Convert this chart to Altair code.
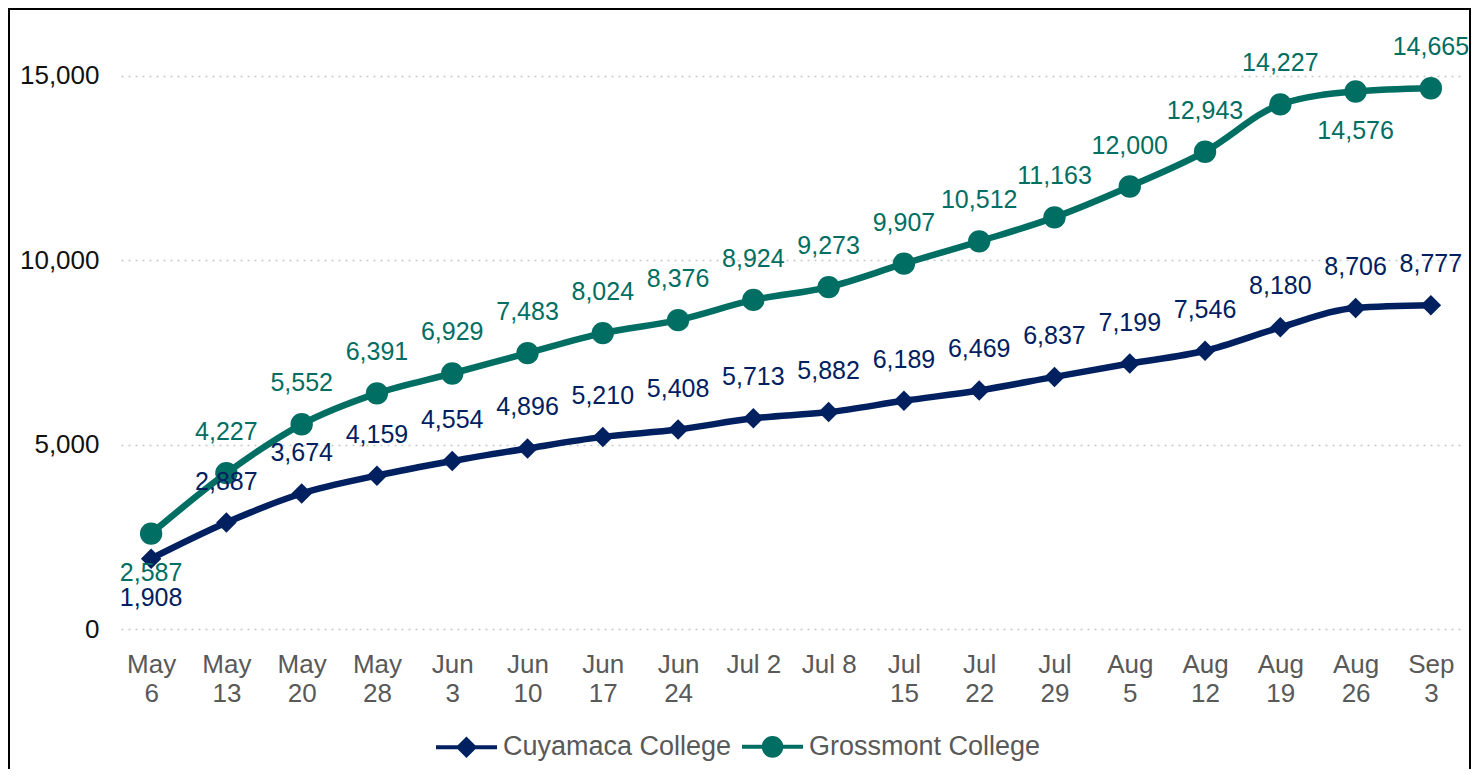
import altair as alt
import pandas as pd

dates = ["May 6", "May 13", "May 20", "May 28", "Jun 3", "Jun 10", "Jun 17", "Jun 24",
         "Jul 2", "Jul 8", "Jul 15", "Jul 22", "Jul 29", "Aug 5", "Aug 12", "Aug 19",
         "Aug 26", "Sep 3"]
cuyamaca = [1908, 2887, 3674, 4159, 4554, 4896, 5210, 5408, 5713, 5882, 6189, 6469,
            6837, 7199, 7546, 8180, 8706, 8777]
grossmont = [2587, 4227, 5552, 6391, 6929, 7483, 8024, 8376, 8924, 9273, 9907, 10512,
             11163, 12000, 12943, 14227, 14576, 14665]
series_names = ["Cuyamaca College", "Grossmont College"]
colors = ["#002060", "#006E62"]
# indices of labels placed below their point
below_idx = {"Cuyamaca College": [0], "Grossmont College": [0, 16]}
single_line_labels = ["Jul 2", "Jul 8"]
y_ticks = [0, 5000, 10000, 15000]

rows = []
for name, vals in zip(series_names, [cuyamaca, grossmont]):
    for i, (d, v) in enumerate(zip(dates, vals)):
        rows.append({"date": d, "series": name, "value": v, "below": i in below_idx[name]})
df = pd.DataFrame(rows)

FONT = "Liberation Sans"
W, H = 1340, 590

x = alt.X("date:N", sort=dates,
          scale=alt.Scale(type="point", padding=0.4),
          axis=alt.Axis(title=None, labelAngle=0, labelFont=FONT, labelFontSize=26,
                        labelColor="#595959", ticks=False, tickSize=0, domain=False,
                        grid=False, labelPadding=22, labelBaseline="top",
                        labelLineHeight=29, labelOverlap=False,
                        labelExpr="indexof(" + str(single_line_labels) + ", datum.label) >= 0 ? datum.label : split(datum.label, ' ')"))
y = alt.Y("value:Q", scale=alt.Scale(domain=[0, 16000], nice=False),
          axis=alt.Axis(values=y_ticks, format=",.0f", title=None, labelFont=FONT,
                        labelFontSize=26, labelColor="#111111", ticks=False, tickSize=0,
                        domain=False, grid=True, gridDash=[2, 5], gridColor="#C8C8C8",
                        gridWidth=1.5, labelPadding=22))
color_scale = alt.Scale(domain=series_names, range=colors)
color = alt.Color("series:N", scale=color_scale, legend=None)

base = alt.Chart(df).encode(x=x, y=y, color=color)

line = base.mark_line(interpolate="monotone", strokeWidth=6.5)
cuy_pts = base.transform_filter(alt.datum.series == "Cuyamaca College").mark_point(
    shape="diamond", filled=True, size=420, opacity=1)
gro_pts = base.transform_filter(alt.datum.series == "Grossmont College").mark_point(
    shape="circle", filled=True, size=500, opacity=1)
lab_above = base.transform_filter("!datum.below").mark_text(
    dy=-41, font=FONT, fontSize=25, baseline="middle").encode(
    text=alt.Text("value:Q", format=","))
lab_below = base.transform_filter("datum.below").mark_text(
    dy=39, font=FONT, fontSize=25, baseline="middle").encode(
    text=alt.Text("value:Q", format=","))

diamond_path = "M-1,0L1,0M0,-0.26L0.26,0L0,0.26L-0.26,0Z"
circle_path = "M-1,0L1,0M-0.29,0A0.29,0.29 0 1,1 0.29,0A0.29,0.29 0 1,1 -0.29,0Z"

legend_layer = alt.Chart(df).transform_filter("datum.value < 0").mark_point(
    filled=True, strokeWidth=4, opacity=1).encode(
    fill=alt.Fill("series:N", scale=alt.Scale(domain=series_names, range=colors),
                  legend=alt.Legend(orient="none", legendX=313, legendY=675,
                                    direction="horizontal", title=None,
                                    labelFont=FONT, labelFontSize=27,
                                    labelColor="#595959", symbolSize=3721,
                                    symbolStrokeWidth=4, labelOffset=4,
                                    columnPadding=2, padding=0, labelLimit=0,
                                    symbolOpacity=1)),
    stroke=alt.Stroke("series:N", scale=alt.Scale(domain=series_names, range=colors)),
    shape=alt.Shape("series:N", scale=alt.Scale(domain=series_names,
                                                range=[diamond_path, circle_path])),
)

border = alt.Chart(alt.Data(values=[{"k": 1}])).mark_rect(
    fill="white", fillOpacity=0, stroke="black", strokeWidth=2).encode(
    x=alt.value(-112), x2=alt.value(1349), y=alt.value(-30), y2=alt.value(800))

chart = alt.layer(border, line, cuy_pts, gro_pts, lab_above, lab_below, legend_layer).resolve_legend(
    color="independent"
).properties(
    width=W, height=H,
    autosize=alt.AutoSizeParams(type="none"),
    padding={"left": 113, "top": 31, "right": 10, "bottom": 140},
).configure_view(stroke=None)

chart.save("out.html", embed_options={"renderer": "svg", "actions": False})
